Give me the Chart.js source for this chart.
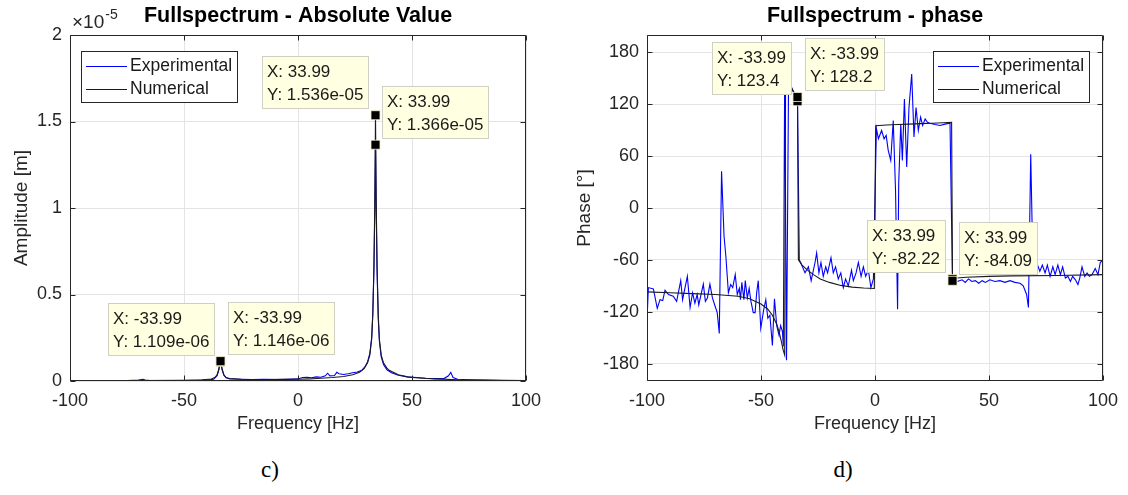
<!DOCTYPE html>
<html>
<head>
<meta charset="utf-8">
<title>Fullspectrum</title>
<script src="https://cdn.jsdelivr.net/npm/chart.js@4.4.1/dist/chart.umd.min.js"></script>
<style>
  html, body { margin: 0; padding: 0; background: #fff; }
  body { width: 1128px; height: 495px; position: relative; overflow: hidden; }
  canvas { position: absolute; top: 0; }
  #ampCanvas { left: 0; }
  #phaseCanvas { left: 564px; }
  .sub { position: absolute; top: 456px; line-height: 28px; font-family: "Liberation Serif", "Times New Roman", serif;
         font-size: 23px; color: #000; transform: translateX(-50%); }
</style>
</head>
<body>
<canvas id="ampCanvas" width="564" height="440"></canvas>
<canvas id="phaseCanvas" width="564" height="440"></canvas>
<div class="sub" style="left:270px">c)</div>
<div class="sub" style="left:843px">d)</div>
<script>
// ---- axis ticks ----
const freqTicks = [-100, -50, 0, 50, 100];
const ampTicks = [0, 0.5e-5, 1e-5, 1.5e-5, 2e-5];
const ampTickLabels = ['0', '0.5', '1', '1.5', '2'];
const phaseTicks = [-180, -120, -60, 0, 60, 120, 180];
const phaseTickLabels = ['-180', '-120', '-60', '0', '60', '120', '180'];
const seriesNames = ['Experimental', 'Numerical'];

// ---- full-spectrum amplitude [m] ----
const expAmpFreq = [
  -100, -95, -90, -85, -80, -75, -70, -68, -67, -65,
  -60, -55, -50, -45, -40, -37, -35.5, -34.8, -34.4, -33.99,
  -33.6, -33.2, -32.5, -31.5, -30, -25, -20, -15, -10, -5,
  0, 2, 4, 6, 8, 10, 12, 13, 14, 16,
  17, 18, 20, 22, 24, 26, 28, 29.5, 30.5, 31.5,
  32.3, 32.8, 33.3, 33.7, 33.99, 34.3, 34.7, 35.2, 35.7, 36.5,
  37.5, 39, 41, 44, 48, 52, 56, 60, 64, 66,
  67, 68, 70, 75, 80, 85, 90, 95, 100
];
const expAmp = [
  0.02e-6, 0.03e-6, 0.02e-6, 0.03e-6, 0.02e-6, 0.03e-6, 0.05e-6, 0.1e-6, 0.06e-6, 0.03e-6,
  0.02e-6, 0.03e-6, 0.02e-6, 0.03e-6, 0.05e-6, 0.1e-6, 0.3e-6, 0.6e-6, 0.88e-6, 1.109e-6,
  0.88e-6, 0.62e-6, 0.33e-6, 0.18e-6, 0.12e-6, 0.1e-6, 0.08e-6, 0.1e-6, 0.08e-6, 0.1e-6,
  0.12e-6, 0.2e-6, 0.22e-6, 0.18e-6, 0.24e-6, 0.22e-6, 0.3e-6, 0.45e-6, 0.3e-6, 0.32e-6,
  0.5e-6, 0.42e-6, 0.38e-6, 0.42e-6, 0.48e-6, 0.52e-6, 0.62e-6, 0.85e-6, 1.1e-6, 1.6e-6,
  2.5e-6, 3.9e-6, 6.5e-6, 10.0e-6, 13.66e-6, 9.8e-6, 6.2e-6, 3.6e-6, 2.3e-6, 1.4e-6,
  0.95e-6, 0.65e-6, 0.48e-6, 0.33e-6, 0.24e-6, 0.2e-6, 0.16e-6, 0.14e-6, 0.14e-6, 0.3e-6,
  0.5e-6, 0.2e-6, 0.1e-6, 0.07e-6, 0.05e-6, 0.04e-6, 0.03e-6, 0.03e-6, 0.03e-6
];
const numAmpFreq = [
  -100, -70, -50, -42, -38, -36.5, -35.5, -34.8, -34.4, -33.99,
  -33.6, -33.2, -32.5, -31.5, -30, -25, -15, -5, 0, 5,
  10, 15, 20, 24, 27, 29, 30.5, 31.5, 32.3, 32.8,
  33.3, 33.7, 33.99, 34.3, 34.7, 35.2, 35.7, 36.5, 37.5, 39,
  40, 44, 48, 50, 60, 70, 80, 100
];
const numAmp = [
  0.02e-6, 0.03e-6, 0.045e-6, 0.07e-6, 0.12e-6, 0.2e-6, 0.35e-6, 0.65e-6, 0.9e-6, 1.146e-6,
  0.9e-6, 0.65e-6, 0.35e-6, 0.2e-6, 0.14e-6, 0.1e-6, 0.09e-6, 0.095e-6, 0.1e-6, 0.12e-6,
  0.16e-6, 0.2e-6, 0.26e-6, 0.36e-6, 0.5e-6, 0.72e-6, 1.05e-6, 1.5e-6, 2.4e-6, 3.8e-6,
  6.5e-6, 10.5e-6, 15.36e-6, 10.5e-6, 6.5e-6, 3.8e-6, 2.4e-6, 1.5e-6, 1.05e-6, 0.75e-6,
  0.62e-6, 0.36e-6, 0.24e-6, 0.2e-6, 0.12e-6, 0.07e-6, 0.05e-6, 0.03e-6
];

// ---- full-spectrum phase [deg] ----
const expPhaseFreq = [
  -100, -99.4, -97.2, -95.5, -94.3, -93.1, -92.1, -90.6, -88.5, -87,
  -85.2, -84.4, -82.3, -81.1, -80, -79, -78, -77.3, -75.3, -74.4,
  -73.5, -72.4, -71.3, -70.2, -69.2, -68.3, -67.3, -66.2, -65.4, -64.3,
  -63.3, -62.4, -61.3, -60.4, -59.5, -59, -58.4, -57.5, -56.9, -56,
  -55.2, -54.4, -53.4, -52.6, -51.9, -51.2, -50.1, -48.9, -47.9, -47,
  -46.1, -45, -44.1, -43.1, -42.1, -41.4, -40.6, -40.2, -39.6, -38.8,
  -37.9, -36.8, -35.5, -33.99, -33.2, -32.6, -30.7, -29.2, -28, -26.3,
  -25.6, -24.6, -23.7, -22.7, -21.6, -20.8, -19.3, -18.3, -17.3, -16.1,
  -15, -13.9, -12.9, -11.7, -10.3, -9.5, -8.3, -7.3, -6.1, -5.1,
  -4.1, -2.9, -1.8, -0.7, 0.6, 1.5, 2.9, 4, 4.9, 5.8,
  6.9, 8, 9, 9.9, 10.4, 11.3, 12, 12.9, 13.9, 14.9,
  16.1, 17.1, 18, 19, 20, 20.9, 22, 23, 24.1, 26.3,
  28.5, 30.7, 32.9, 33.99, 34.5, 36, 38.2, 39.6, 41, 42.5,
  44, 45.5, 47, 48.4, 50.4, 52.6, 54.8, 57, 59.2, 61.4,
  63.6, 65, 66.5, 67.3, 68.3, 69.3, 70.9, 72.3, 73.4, 74.6,
  75.6, 76.8, 78, 79, 80.2, 81.3, 82.3, 83.5, 84.6, 85.7,
  86.7, 87.9, 89, 89.8, 90.8, 92, 93, 94, 95.2, 96.6,
  97.8, 98.8, 100
];
const expPhase = [
  -131, -92, -93.5, -116, -106, -107, -95, -100, -102, -108,
  -84, -106, -79, -115, -98, -110, -100, -112, -88, -108,
  -104, -88, -104, -113, -121, -145, 42.5, -33, -56, -98,
  -88.5, -92, -77, -100, -93, -106, -86, -106, -84, -104,
  -93, -108, -121, -121, -98, -84, -139, -119, -106, -127.5,
  -124, -159, -105, -136, -147, -136, -143, -160, 160, -176,
  152, 140, 132, 123.4, -60, -63, -75, -68, -84, -63,
  -52, -75, -63, -79, -68, -75, -57.5, -75, -68, -82,
  -75, -92, -82, -90, -72, -84, -75, -63, -79, -68,
  -79, -72, -92, -82, 92, 80, 89.6, 80, 84, 66.7,
  55, 101, 20.7, -117, 28.6, 97, 55, 126, 47.5, 116,
  155, 82, 116, 89.6, 105, 95.4, 103, 99, 98, 96.5,
  95.4, 97, 98, -84.09, -82, -85, -83, -86, -82, -85,
  -84, -87, -84, -86, -83, -85, -84, -86, -84, -86,
  -87, -90, -100, -115, 62, -71, -63, -73, -66, -75,
  -66, -79, -68, -77, -66, -77, -68, -81, -79, -85,
  -79, -83, -88.5, -81, -68, -79, -75, -79, -77, -70,
  -77, -63, -60
];
const numPhaseFreq = [
  -100, -90, -80, -70, -60, -55, -50, -47, -45, -43,
  -42, -41, -40.3, -39.6, -39.2, -38, -37, -36, -35, -33.99,
  -33.6, -32, -30, -27, -24, -20, -15, -10, -5, -0.3,
  0.3, 5, 10, 15, 20, 25, 30, 33.6, 33.99, 36,
  40, 50, 60, 80, 100
];
const numPhase = [
  -97, -98, -99, -100, -102, -105, -111, -117, -124, -135,
  -144, -155, -164, -170, 168, 150, 142, 136, 131, 128.2,
  -60, -66, -71, -77, -82, -86, -89.5, -91.5, -92.5, -93,
  95, 96, 96.5, 97, 97.5, 98, 98.5, 99, -82.22, -81,
  -80, -79, -78.5, -78, -77
];

// data tips: which series (0 = experimental, 1 = numerical) and at which frequency
const ampTipSeries = [1, 0, 0, 1];
const ampTipFreq = [33.99, 33.99, -33.99, -33.99];
const phaseTipSeries = [0, 1, 1, 0];
const phaseTipFreq = [-33.99, -33.99, 33.99, 33.99];

// ---------------------------------------------------------------------------
const FONT = "'Liberation Sans', Arial, Helvetica, sans-serif";
Chart.defaults.font.family = FONT;
Chart.defaults.color = '#262626';

function toPoints(xs, ys) { return xs.map((x, i) => ({ x: x, y: ys[i] })); }

function valueAt(xs, ys, f) { return ys[xs.indexOf(f)]; }

// MATLAB-like number formats used in the data tips
function fmtShort(v) { return String(Number(v.toPrecision(4))); }
function fmtExp(v) {
  const parts = v.toExponential(3).split('e');
  const n = parseInt(parts[1], 10);
  return parts[0] + 'e' + (n < 0 ? '-' : '+') + String(Math.abs(n)).padStart(2, '0');
}

function buildTips(seriesIdx, freqs, sides, series) {
  return seriesIdx.map((s, i) => ({
    x: freqs[i],
    y: valueAt(series[s][0], series[s][1], freqs[i]),
    side: sides[i]
  }));
}

// frame, inward ticks, exponent note, data tips and boxed legend
const extrasPlugin = {
  id: 'extras',
  afterDatasetsDraw(chart, args, opts) {
    const ctx = chart.ctx;
    const area = chart.chartArea;
    const xs = chart.scales.x, ys = chart.scales.y;
    const L = Math.round(area.left) + 0.5, R = Math.round(area.right) - 0.5;
    const T = Math.round(area.top) + 0.5, B = Math.round(area.bottom) - 0.5;
    ctx.save();

    // axes box with tick marks on all four sides
    ctx.strokeStyle = '#262626';
    ctx.lineWidth = 1;
    ctx.beginPath();
    ctx.rect(L, T, R - L, B - T);
    xs.ticks.forEach(t => {
      const p = Math.round(xs.getPixelForValue(t.value)) + 0.5;
      ctx.moveTo(p, B); ctx.lineTo(p, B - 5);
      ctx.moveTo(p, T); ctx.lineTo(p, T + 5);
    });
    ys.ticks.forEach(t => {
      const p = Math.round(ys.getPixelForValue(t.value)) + 0.5;
      ctx.moveTo(L, p); ctx.lineTo(L + 5, p);
      ctx.moveTo(R, p); ctx.lineTo(R - 5, p);
    });
    ctx.stroke();

    // common exponent of the y axis
    if (opts.exponent) {
      ctx.fillStyle = '#262626';
      ctx.textAlign = 'left';
      ctx.textBaseline = 'alphabetic';
      ctx.font = '19px ' + FONT;
      const base = '\u00d710';
      ctx.fillText(base, area.left + 2, area.top - 7);
      const bw = ctx.measureText(base).width;
      ctx.font = '14px ' + FONT;
      ctx.fillText(opts.exponent, area.left + 3 + bw, area.top - 16);
    }

    // data tip markers
    const tips = opts.tips || [];
    tips.forEach(tip => {
      const px = xs.getPixelForValue(tip.x), py = ys.getPixelForValue(tip.y);
      ctx.fillStyle = '#000';
      ctx.fillRect(px - 4.5, py - 4.5, 9, 9);
      ctx.strokeStyle = '#f4f0c8';
      ctx.lineWidth = 0.8;
      ctx.strokeRect(px - 4.5, py - 4.5, 9, 9);
    });

    // data tip boxes
    ctx.font = '17px ' + FONT;
    ctx.textAlign = 'left';
    ctx.textBaseline = 'middle';
    tips.forEach(tip => {
      const px = xs.getPixelForValue(tip.x), py = ys.getPixelForValue(tip.y);
      const lines = ['X: ' + fmtShort(tip.x), 'Y: ' + opts.fmtY(tip.y)];
      const w = Math.round(Math.max.apply(null, lines.map(s => ctx.measureText(s).width)) + 11);
      const h = 53;
      const bx = Math.round(tip.side === 'left' ? px - 6 - w : px + 7);
      const by = Math.round(py - 6 - h);
      ctx.fillStyle = '#ffffe1';
      ctx.fillRect(bx, by, w, h);
      ctx.strokeStyle = '#cfcfc4';
      ctx.lineWidth = 1;
      ctx.strokeRect(bx + 0.5, by + 0.5, w - 1, h - 1);
      ctx.fillStyle = '#1a1a1a';
      ctx.fillText(lines[0], bx + 5, by + 16);
      ctx.fillText(lines[1], bx + 5, by + 39);
    });

    // legend box
    if (opts.legendAlign) {
      const ds = chart.data.datasets;
      ctx.font = '17.5px ' + FONT;
      const tw = Math.max.apply(null, ds.map(d => ctx.measureText(d.label).width));
      const w = Math.round(49 + tw + 6), h = 52;
      const lx = Math.round(opts.legendAlign === 'left' ? area.left + 11 : area.right - 13 - w);
      const ly = Math.round(area.top + 16);
      ctx.fillStyle = '#fff';
      ctx.fillRect(lx, ly, w, h);
      ctx.strokeStyle = '#262626';
      ctx.lineWidth = 1;
      ctx.strokeRect(lx + 0.5, ly + 0.5, w - 1, h - 1);
      ds.forEach((d, i) => {
        const yy = ly + 15 + i * 23;
        ctx.strokeStyle = d.borderColor;
        ctx.beginPath();
        ctx.moveTo(lx + 5, yy + 0.5);
        ctx.lineTo(lx + 46, yy + 0.5);
        ctx.stroke();
        ctx.fillStyle = '#1a1a1a';
        ctx.textBaseline = 'middle';
        ctx.fillText(d.label, lx + 49, yy);
      });
    }
    ctx.restore();
  }
};

function buildChart(id, o) {
  return new Chart(document.getElementById(id), {
    type: 'line',
    data: {
      datasets: [
        { label: seriesNames[0], data: toPoints(o.exp[0], o.exp[1]), borderColor: '#0000ff',
          borderWidth: 1.1, pointRadius: 0, tension: 0, order: 1 },
        { label: seriesNames[1], data: toPoints(o.num[0], o.num[1]), borderColor: '#1a1a1a',
          borderWidth: 1.1, pointRadius: 0, tension: 0, order: 0 }
      ]
    },
    options: {
      responsive: false,
      animation: false,
      devicePixelRatio: 1,
      events: [],
      layout: { padding: { left: 0, right: o.padRight, top: 0, bottom: 0 } },
      plugins: {
        legend: { display: false },
        tooltip: { enabled: false },
        title: {
          display: true, text: o.title, fullSize: false, color: '#000',
          font: { size: 21.5, weight: 'bold' }, padding: { top: 3.5, bottom: 5.7 }
        },
        extras: { tips: o.tips, fmtY: o.fmtY, exponent: o.exponent, legendAlign: o.legendAlign }
      },
      scales: {
        x: {
          type: 'linear', min: -100, max: 100,
          afterBuildTicks: s => { s.ticks = freqTicks.map(v => ({ value: v })); },
          afterFit: s => { s.height = 59; },
          ticks: { font: { size: 18 }, padding: 9, maxRotation: 0, autoSkip: false, color: '#262626' },
          grid: { color: '#e4e4e4', lineWidth: 1, drawTicks: false },
          border: { display: false },
          title: { display: true, text: 'Frequency [Hz]', font: { size: 18 }, color: '#262626',
                   padding: { top: 0, bottom: 5 } }
        },
        y: {
          type: 'linear', min: o.yMin, max: o.yMax,
          afterBuildTicks: s => { s.ticks = o.yTicks.map(v => ({ value: v })); },
          afterFit: s => { s.width = o.yWidth; },
          ticks: { font: { size: 18 }, padding: 8, color: '#262626', callback: (v, i) => o.yLabels[i] },
          grid: { color: '#e4e4e4', lineWidth: 1, drawTicks: false },
          border: { display: false },
          title: { display: true, text: o.yTitle, font: { size: 19 }, color: '#262626',
                   padding: { top: o.yTitlePad, bottom: 0 } }
        }
      }
    },
    plugins: [extrasPlugin]
  });
}

const ampSeries = [[expAmpFreq, expAmp], [numAmpFreq, numAmp]];
const phaseSeries = [[expPhaseFreq, expPhase], [numPhaseFreq, numPhase]];

buildChart('ampCanvas', {
  title: 'Fullspectrum - Absolute Value',
  exp: ampSeries[0], num: ampSeries[1],
  yMin: 0, yMax: 2e-5, yTicks: ampTicks, yLabels: ampTickLabels,
  yTitle: 'Amplitude [m]', yTitlePad: 10.5, yWidth: 70, padRight: 38,
  exponent: '-5', legendAlign: 'left', fmtY: fmtExp,
  tips: buildTips(ampTipSeries, ampTipFreq, ['left', 'right', 'left', 'right'], ampSeries)
});

buildChart('phaseCanvas', {
  title: 'Fullspectrum - phase',
  exp: phaseSeries[0], num: phaseSeries[1],
  yMin: -200, yMax: 200, yTicks: phaseTicks, yLabels: phaseTickLabels,
  yTitle: 'Phase [\u00b0]', yTitlePad: 9.5, yWidth: 83, padRight: 25,
  exponent: null, legendAlign: 'right', fmtY: fmtShort,
  tips: buildTips(phaseTipSeries, phaseTipFreq, ['left', 'right', 'left', 'right'], phaseSeries)
});
</script>
</body>
</html>
